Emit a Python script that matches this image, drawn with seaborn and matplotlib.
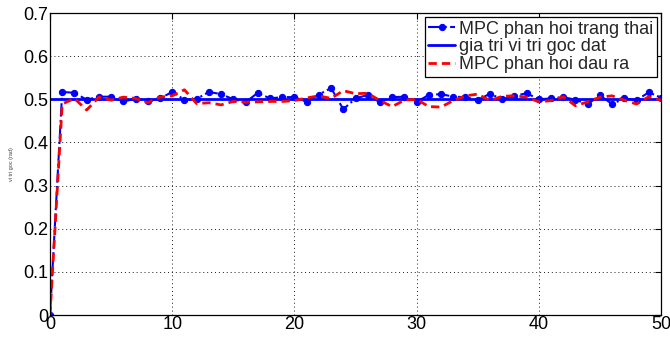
import numpy as np
import pandas as pd
import matplotlib
matplotlib.use("Agg")
import matplotlib.pyplot as plt
import seaborn as sns

# ---- data ----
t = list(range(0, 51))
state_fb = [0.000, 0.517, 0.515, 0.499, 0.506, 0.506, 0.495, 0.501, 0.495, 0.502,
            0.517, 0.499, 0.501, 0.517, 0.512, 0.500, 0.493, 0.515, 0.502, 0.505,
            0.505, 0.494, 0.511, 0.526, 0.477, 0.502, 0.510, 0.493, 0.505, 0.506,
            0.494, 0.510, 0.512, 0.506, 0.505, 0.498, 0.513, 0.500, 0.508, 0.514,
            0.500, 0.502, 0.505, 0.499, 0.489, 0.509, 0.489, 0.502, 0.498, 0.516,
            0.504]
setpoint = [0.5] * 51
output_fb = [0.000, 0.489, 0.502, 0.475, 0.505, 0.498, 0.505, 0.502, 0.492, 0.505,
             0.508, 0.522, 0.490, 0.492, 0.487, 0.495, 0.493, 0.494, 0.495, 0.495,
             0.497, 0.503, 0.508, 0.502, 0.520, 0.513, 0.514, 0.497, 0.483, 0.498,
             0.500, 0.483, 0.482, 0.497, 0.508, 0.512, 0.497, 0.507, 0.508, 0.505,
             0.494, 0.497, 0.506, 0.485, 0.494, 0.505, 0.508, 0.498, 0.489, 0.506,
             0.498]
labels = ["MPC phan hoi trang thai", "gia tri vi tri goc dat", "MPC phan hoi dau ra"]
xticks = [0, 10, 20, 30, 40, 50]
yticks = [0, 0.1, 0.2, 0.3, 0.4, 0.5, 0.6, 0.7]
ytick_labels = ["0", "0.1", "0.2", "0.3", "0.4", "0.5", "0.6", "0.7"]

sns.set_style("white")
plt.rcParams['font.family'] = ['Liberation Sans', 'DejaVu Sans']

fig = plt.figure(figsize=(6.7, 3.4), dpi=100)
ax = fig.add_axes([50/670, 1-315/340, 611/670, 302/340])

df = pd.DataFrame({"t": t, "state": state_fb, "sp": setpoint, "out": output_fb})

sns.lineplot(data=df, x="t", y="state", ax=ax, color=(0, 0, 1), linestyle="-.",
             linewidth=1.5, marker="o", markersize=4.5, markeredgecolor=(0, 0, 1),
             markerfacecolor=(0, 0, 1), label=labels[0])
sns.lineplot(data=df, x="t", y="sp", ax=ax, color=(0, 0, 1), linestyle="-",
             linewidth=2.0, label=labels[1])
sns.lineplot(data=df, x="t", y="out", ax=ax, color=(1, 0, 0), linestyle=(0, (3.0, 1.8)),
             linewidth=2.0, label=labels[2])

ax.set_xlim(0, 50)
ax.set_ylim(0, 0.7)
ax.set_xticks(xticks)
ax.set_yticks(yticks)
ax.set_yticklabels(ytick_labels)
ax.tick_params(axis="both", direction="in", length=4, width=0.8, labelsize=13,
               top=True, right=True, pad=1, colors="black")
ax.grid(True, color="black", linestyle=(0, (1.2, 3.5)), linewidth=0.6)
for s in ax.spines.values():
    s.set_color("black")
    s.set_linewidth(0.9)

ax.set_xlabel("")
ax.set_ylabel("vi tri goc (rad)", fontsize=4, labelpad=7, color="#444444")

leg = ax.legend(loc="upper right", bbox_to_anchor=(0.9935, 0.987), borderaxespad=0,
                fontsize=13, frameon=True, fancybox=False, framealpha=1,
                edgecolor="black", handlelength=1.45, handletextpad=0.25,
                labelspacing=0.05, borderpad=0.2)
leg.get_frame().set_linewidth(0.9)

fig.savefig("out.png", dpi=100)
